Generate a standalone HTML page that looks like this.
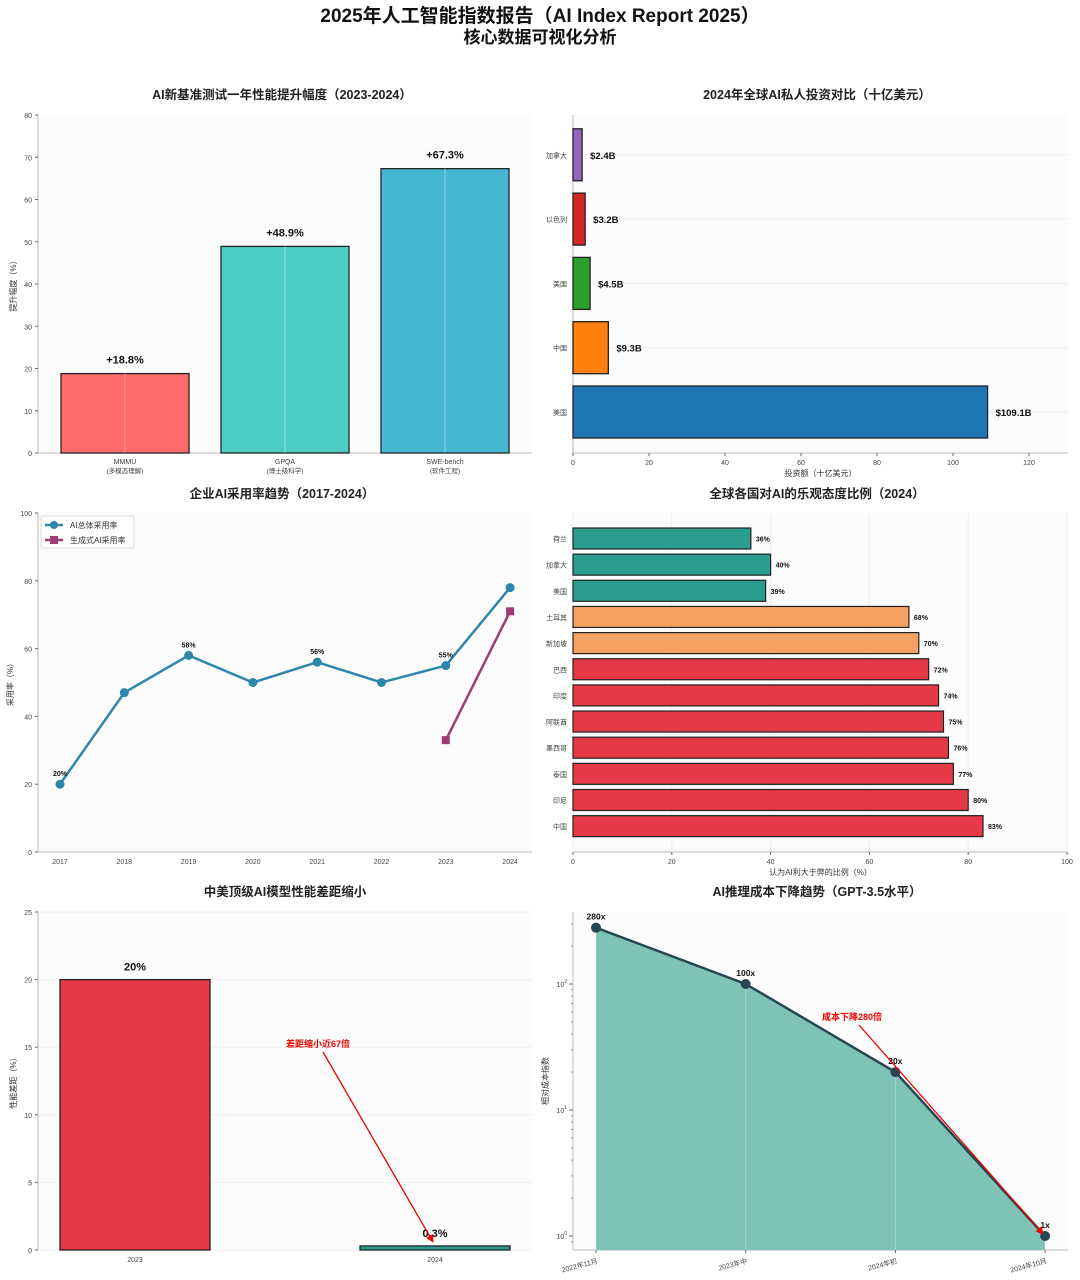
<!DOCTYPE html>
<html><head><meta charset="utf-8">
<style>
html,body{margin:0;padding:0;background:#fff;}
svg{display:block;font-family:"Liberation Sans","Noto Sans CJK SC",sans-serif;}
</style></head>
<body>
<svg id="c" width="1080" height="1280" viewBox="0 0 1080 1280">
<text x="540" y="22" text-anchor="middle" font-size="19" font-weight="bold" fill="#111">2025年人工智能指数报告（AI Index Report 2025）</text>
<text x="540" y="43" text-anchor="middle" font-size="17" font-weight="bold" fill="#111">核心数据可视化分析</text>
</svg>
<script>
// ---- data ----
const benchCats = ["MMMU|(多模态理解)", "GPQA|(博士级科学)", "SWE-bench|(软件工程)"];
const benchVals = [18.8, 48.9, 67.3];
const benchColors = ["#ff6b6b", "#4ecdc4", "#45b7d1"];

const investCats = ["美国", "中国", "英国", "以色列", "加拿大"];
const investLabels = ["美国", "中国", "美国", "以色列", "加拿大"];
const investVals = [109.1, 9.3, 4.5, 3.2, 2.4];
const investColors = ["#1f77b4", "#ff7f0e", "#2ca02c", "#d62728", "#9467bd"];
const investTicks = [0, 20, 40, 60, 80, 100, 120];

const years = [2017, 2018, 2019, 2020, 2021, 2022, 2023, 2024];
const aiRate = [20, 47, 58, 50, 56, 50, 55, 78];
const genYears = [2023, 2024];
const genRate = [33, 71];
const rateLabelIdx = [0, 2, 4, 6];

const countries = ["荷兰", "加拿大", "美国", "土耳其", "新加坡", "巴西", "印度", "阿联酋", "墨西哥", "泰国", "印尼", "中国"];
const optimism = [36, 40, 39, 68, 70, 72, 74, 75, 76, 77, 80, 83];

const gapCats = ["2023", "2024"];
const gapVals = [20, 0.3];
const gapLabels = ["20%", "0.3%"];

const costCats = ["2022年11月", "2023年中", "2024年初", "2024年10月"];
const costVals = [280, 100, 20, 1];
const costLabels = ["280x", "100x", "20x", "1x"];

// ---- helpers ----
const svg = document.getElementById('c');
const NS = "http://www.w3.org/2000/svg";
function mk(tag, attrs, parent) {
  const e = document.createElementNS(NS, tag);
  for (const k in attrs) e.setAttribute(k, attrs[k]);
  (parent || svg).appendChild(e);
  return e;
}
function txt(x, y, s, attrs, parent) {
  const e = mk('text', Object.assign({x: x, y: y}, attrs), parent);
  e.textContent = s;
  return e;
}
const defs = mk('defs', {});
const mrk = mk('marker', {id: 'arr', markerWidth: 8, markerHeight: 8, refX: 7, refY: 4, orient: 'auto', markerUnits: 'userSpaceOnUse'}, defs);
mk('path', {d: 'M0,0 L8,4 L0,8 z', fill: '#e00'}, mrk);

function axesFrame(x0, x1, y0, y1, name) {
  const g = mk('g', {});
  
  
  mk('rect', {x: x0, y: y0, width: x1 - x0, height: y1 - y0, fill: '#fcfcfc'}, g);
  mk('line', {x1: x0, y1: y0, x2: x0, y2: y1, stroke: '#bbb', 'stroke-width': 1}, g);
  mk('line', {x1: x0, y1: y1, x2: x1, y2: y1, stroke: '#bbb', 'stroke-width': 1}, g);
  return g;
}
function title(x, y, s, name) {
  const t = txt(x, y, s, {'text-anchor': 'middle', 'font-size': 12.5, 'font-weight': 'bold', fill: '#222'});
  
  
}

// ===== Panel 1: benchmarks =====
(function () {
  const X0 = 38, X1 = 532, Y0 = 115, Y1 = 453;
  const g = axesFrame(X0, X1, Y0, Y1, 'benchmark-chart');
  const y = v => Y1 - v / 80 * (Y1 - Y0);
  const xc = i => 125 + i * 160;
  for (let v = 0; v <= 80; v += 10) {
    mk('line', {x1: X0 - 3, y1: y(v), x2: X0, y2: y(v), stroke: '#666'}, g);
    txt(X0 - 6, y(v) + 3, v, {'text-anchor': 'end', 'font-size': 7, fill: '#444'}, g);
  }
  txt(0, 0, '提升幅度（%）', {'font-size': 8, fill: '#333', 'text-anchor': 'middle', transform: 'translate(16,' + ((Y0 + Y1) / 2) + ') rotate(-90)'}, g);
  benchVals.forEach((v, i) => {
    const r = mk('rect', {x: xc(i) - 64, y: y(v), width: 128, height: Y1 - y(v), fill: benchColors[i], stroke: '#222', 'stroke-width': 1.3}, g);
    
    
    mk('line', {x1: xc(i), y1: Y0, x2: xc(i), y2: Y1, stroke: 'rgba(255,255,255,0.35)'}, g);
    txt(xc(i), y(v) - 10, '+' + v.toFixed(1) + '%', {'text-anchor': 'middle', 'font-size': 11, 'font-weight': 'bold', fill: '#111'}, g);
    const p = benchCats[i].split('|');
    txt(xc(i), Y1 + 11, p[0], {'text-anchor': 'middle', 'font-size': 7, fill: '#444'}, g);
    txt(xc(i), Y1 + 20, p[1], {'text-anchor': 'middle', 'font-size': 6.5, fill: '#444'}, g);
  });
  title(282, 99, 'AI新基准测试一年性能提升幅度（2023-2024）', 'benchmark-title');
})();

// ===== Panel 2: investment =====
(function () {
  const X0 = 573, X1 = 1068, Y0 = 115, Y1 = 453;
  const g = axesFrame(X0, X1, Y0, Y1, 'investment-chart');
  const x = v => X0 + v * 3.8;
  const yc = i => 412 - i * 64.3;
  investTicks.forEach(v => {
    mk('line', {x1: x(v), y1: Y1, x2: x(v), y2: Y1 + 3, stroke: '#666'}, g);
    txt(x(v), Y1 + 12, v, {'text-anchor': 'middle', 'font-size': 7, fill: '#444'}, g);
  });
  txt((X0 + X1) / 2, 476, '投资额（十亿美元）', {'text-anchor': 'middle', 'font-size': 8, fill: '#333'}, g);
  investVals.forEach((v, i) => {
    mk('line', {x1: X0, y1: yc(i), x2: X1, y2: yc(i), stroke: '#eee'}, g);
    const r = mk('rect', {x: X0, y: yc(i) - 26, width: x(v) - X0, height: 52, fill: investColors[i], stroke: '#222', 'stroke-width': 1.3}, g);
    
    
    txt(X0 - 6, yc(i) + 3, investLabels[i], {'text-anchor': 'end', 'font-size': 7, fill: '#444'}, g);
    txt(x(v) + 8, yc(i) + 4, '$' + v + 'B', {'font-size': 9.5, 'font-weight': 'bold', fill: '#111'}, g);
  });
  title(817, 99, '2024年全球AI私人投资对比（十亿美元）', 'investment-title');
})();

// ===== Panel 3: adoption =====
(function () {
  const X0 = 38, X1 = 532, Y0 = 513, Y1 = 852;
  const g = axesFrame(X0, X1, Y0, Y1, 'adoption-chart');
  const x = yr => 60 + (yr - 2017) * 64.3;
  const y = v => Y1 - v / 100 * (Y1 - Y0);
  for (let v = 0; v <= 100; v += 20) {
    mk('line', {x1: X0 - 3, y1: y(v), x2: X0, y2: y(v), stroke: '#666'}, g);
    txt(X0 - 6, y(v) + 3, v, {'text-anchor': 'end', 'font-size': 7, fill: '#444'}, g);
  }
  years.forEach(yr => txt(x(yr), Y1 + 12, yr, {'text-anchor': 'middle', 'font-size': 7, fill: '#444'}, g));
  txt(0, 0, '采用率（%）', {'font-size': 8, fill: '#333', 'text-anchor': 'middle', transform: 'translate(13,' + ((Y0 + Y1) / 2) + ') rotate(-90)'}, g);
  const l1 = mk('polyline', {points: years.map((yr, i) => x(yr) + ',' + y(aiRate[i])).join(' '), fill: 'none', stroke: '#2e86ab', 'stroke-width': 2.5}, g);
  
  
  years.forEach((yr, i) => {
    const c = mk('circle', {cx: x(yr), cy: y(aiRate[i]), r: 4.5, fill: '#2e86ab'}, g);
    
    
  });
  rateLabelIdx.forEach(i => txt(x(years[i]), y(aiRate[i]) - 8, aiRate[i] + '%', {'text-anchor': 'middle', 'font-size': 7, 'font-weight': 'bold', fill: '#111'}, g));
  const l2 = mk('polyline', {points: genYears.map((yr, i) => x(yr) + ',' + y(genRate[i])).join(' '), fill: 'none', stroke: '#a23b72', 'stroke-width': 2.5}, g);
  
  
  genYears.forEach((yr, i) => {
    const s = mk('rect', {x: x(yr) - 4, y: y(genRate[i]) - 4, width: 8, height: 8, fill: '#a23b72'}, g);
    
    
  });
  const lg = mk('g', {}, g);
  
  
  mk('rect', {x: 41, y: 516, width: 93, height: 32, fill: '#fff', stroke: '#ddd', rx: 2}, lg);
  mk('line', {x1: 45, y1: 525, x2: 63, y2: 525, stroke: '#2e86ab', 'stroke-width': 2.5}, lg);
  mk('circle', {cx: 54, cy: 525, r: 4, fill: '#2e86ab'}, lg);
  txt(70, 528, 'AI总体采用率', {'font-size': 8, fill: '#333'}, lg);
  mk('line', {x1: 45, y1: 540, x2: 63, y2: 540, stroke: '#a23b72', 'stroke-width': 2.5}, lg);
  mk('rect', {x: 50, y: 536, width: 8, height: 8, fill: '#a23b72'}, lg);
  txt(70, 543, '生成式AI采用率', {'font-size': 8, fill: '#333'}, lg);
  title(282, 498, '企业AI采用率趋势（2017-2024）', 'adoption-title');
})();

// ===== Panel 4: optimism =====
(function () {
  const X0 = 573, X1 = 1068, Y0 = 513, Y1 = 852;
  const g = axesFrame(X0, X1, Y0, Y1, 'optimism-chart');
  const x = v => X0 + v * 4.94;
  const yc = i => 538.5 + i * 26.15;
  for (let v = 0; v <= 100; v += 20) {
    mk('line', {x1: x(v), y1: Y0, x2: x(v), y2: Y1, stroke: '#f0f0f0'}, g);
    mk('line', {x1: x(v), y1: Y1, x2: x(v), y2: Y1 + 3, stroke: '#666'}, g);
    txt(x(v), Y1 + 12, v, {'text-anchor': 'middle', 'font-size': 7, fill: '#444'}, g);
  }
  txt((X0 + X1) / 2, 875, '认为AI利大于弊的比例（%）', {'text-anchor': 'middle', 'font-size': 8, fill: '#333'}, g);
  optimism.forEach((v, i) => {
    const col = v < 50 ? '#2a9d8f' : (v < 71 ? '#f4a261' : '#e63946');
    const r = mk('rect', {x: X0, y: yc(i) - 10.5, width: x(v) - X0, height: 21, fill: col, stroke: '#222', 'stroke-width': 1.2}, g);
    
    
    txt(X0 - 6, yc(i) + 3, countries[i], {'text-anchor': 'end', 'font-size': 7, fill: '#444'}, g);
    txt(x(v) + 5, yc(i) + 3, v + '%', {'font-size': 7, 'font-weight': 'bold', fill: '#111'}, g);
  });
  title(817, 498, '全球各国对AI的乐观态度比例（2024）', 'optimism-title');
})();

// ===== Panel 5: gap =====
(function () {
  const X0 = 38, X1 = 532, Y0 = 912, Y1 = 1250;
  const g = axesFrame(X0, X1, Y0, Y1, 'gap-chart');
  const y = v => Y1 - v / 25 * (Y1 - Y0);
  const xc = i => 135 + i * 300;
  for (let v = 0; v <= 25; v += 5) {
    mk('line', {x1: X0, y1: y(v), x2: X1, y2: y(v), stroke: '#f0f0f0'}, g);
    mk('line', {x1: X0 - 3, y1: y(v), x2: X0, y2: y(v), stroke: '#666'}, g);
    txt(X0 - 6, y(v) + 3, v, {'text-anchor': 'end', 'font-size': 7, fill: '#444'}, g);
  }
  txt(0, 0, '性能差距（%）', {'font-size': 8, fill: '#333', 'text-anchor': 'middle', transform: 'translate(16,' + ((Y0 + Y1) / 2) + ') rotate(-90)'}, g);
  const cols = ['#e63946', '#2a9d8f'];
  gapVals.forEach((v, i) => {
    const r = mk('rect', {x: xc(i) - 75, y: y(v), width: 150, height: Y1 - y(v), fill: cols[i], stroke: '#222', 'stroke-width': 1.3}, g);
    
    
    txt(xc(i), y(v) - 9, gapLabels[i], {'text-anchor': 'middle', 'font-size': 11, 'font-weight': 'bold', fill: '#111'}, g);
    txt(xc(i), Y1 + 12, gapCats[i], {'text-anchor': 'middle', 'font-size': 7, fill: '#444'}, g);
  });
  txt(318, 1047, '差距缩小近67倍', {'text-anchor': 'middle', 'font-size': 9, 'font-weight': 'bold', fill: '#e00'}, g);
  mk('line', {x1: 323, y1: 1052, x2: xc(1) - 2, y2: y(gapVals[1]) - 4, stroke: '#e00', 'stroke-width': 1.3, 'marker-end': 'url(#arr)'}, g);
  title(285, 896, '中美顶级AI模型性能差距缩小', 'gap-title');
})();

// ===== Panel 6: cost (log) =====
(function () {
  const X0 = 573, X1 = 1068, Y0 = 912, Y1 = 1250;
  const g = axesFrame(X0, X1, Y0, Y1, 'cost-chart');
  const x = i => 596 + i * 149.7;
  const y = v => 1236 - Math.log10(v) * 126;
  for (let d = 0; d <= 2; d++) {
    mk('line', {x1: X0 - 4, y1: y(Math.pow(10, d)), x2: X0, y2: y(Math.pow(10, d)), stroke: '#666'}, g);
    const t = txt(X0 - 6, y(Math.pow(10, d)) + 3, '10', {'text-anchor': 'end', 'font-size': 7, fill: '#444'}, g);
    const sp = document.createElementNS(NS, 'tspan');
    sp.setAttribute('dy', -4); sp.setAttribute('font-size', 5); sp.textContent = d;
    t.appendChild(sp);
    for (let m = 2; m <= 9; m++) {
      const v = m * Math.pow(10, d);
      if (y(v) < Y0) continue;
      mk('line', {x1: X0 - 2, y1: y(v), x2: X0, y2: y(v), stroke: '#999'}, g);
    }
  }
  mk('line', {x1: X0 - 2, y1: y(0.9), x2: X0, y2: y(0.9), stroke: '#999'}, g);
  txt(0, 0, '相对成本指数', {'font-size': 8, fill: '#333', 'text-anchor': 'middle', transform: 'translate(548,' + ((Y0 + Y1) / 2) + ') rotate(-90)'}, g);
  const pts = costVals.map((v, i) => x(i) + ',' + y(v));
  const area = mk('polygon', {points: pts.join(' ') + ' ' + x(3) + ',' + Y1 + ' ' + x(0) + ',' + Y1, fill: '#7fc2b6'}, g);
  
  
  costVals.forEach((v, i) => {
    mk('line', {x1: x(i), y1: Y0, x2: x(i), y2: Y1, stroke: 'rgba(255,255,255,0.3)'}, g);
    mk('line', {x1: x(i), y1: Y1, x2: x(i), y2: Y1 + 3, stroke: '#666'}, g);
    txt(0, 0, costCats[i], {'text-anchor': 'end', 'font-size': 7, fill: '#444', transform: 'translate(' + (x(i) + 2) + ',' + (Y1 + 13) + ') rotate(-15)'}, g);
  });
  const ln = mk('polyline', {points: pts.join(' '), fill: 'none', stroke: '#264653', 'stroke-width': 2.5}, g);
  
  
  costVals.forEach((v, i) => {
    const c = mk('circle', {cx: x(i), cy: y(v), r: 5, fill: '#264653'}, g);
    
    
    txt(x(i), y(v) - 8, costLabels[i], {'text-anchor': 'middle', 'font-size': 8.5, 'font-weight': 'bold', fill: '#111'}, g);
  });
  txt(852, 1020, '成本下降280倍', {'text-anchor': 'middle', 'font-size': 9, 'font-weight': 'bold', fill: '#e00'}, g);
  mk('line', {x1: 859, y1: 1025, x2: x(3) - 2, y2: y(1) - 2, stroke: '#e00', 'stroke-width': 1.3, 'marker-end': 'url(#arr)'}, g);
  title(817, 896, 'AI推理成本下降趋势（GPT-3.5水平）', 'cost-title');
})();
</script>
</body></html>
